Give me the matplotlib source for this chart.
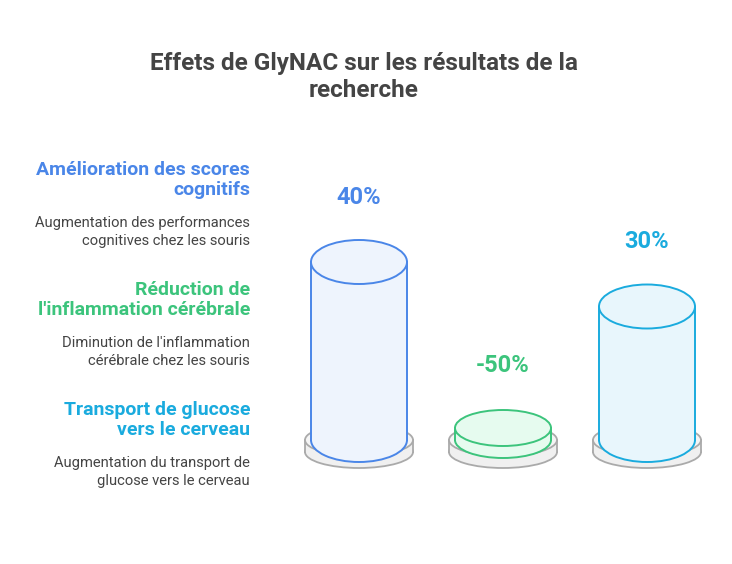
import matplotlib.pyplot as plt
from matplotlib.patches import Ellipse, Rectangle

plt.rcParams['font.family'] = ['Roboto', 'DejaVu Sans']

# données
titles = ["Amélioration des scores\ncognitifs", "Réduction de\nl'inflammation cérébrale", "Transport de glucose\nvers le cerveau"]
descs = ["Augmentation des performances\ncognitives chez les souris",
         "Diminution de l'inflammation\ncérébrale chez les souris",
         "Augmentation du transport de\nglucose vers le cerveau"]
values = [40, -50, 30]
labels = ["40%", "-50%", "30%"]
edges = ["#4a86e8", "#3cc47c", "#1aabde"]
fills = ["#eef4fd", "#e6fbef", "#e8f6fc"]

fig = plt.figure(figsize=(7.32, 5.64), dpi=100)
ax = fig.add_axes([0, 0, 1, 1])
ax.set_xlim(0, 732)
ax.set_ylim(564, 0)
ax.axis('off')

ax.text(364, 77, "Effets de GlyNAC sur les résultats de la\nrecherche", ha='center', va='center',
        fontsize=17.5, fontweight='bold', color='#444444', linespacing=1.2)

# textes à gauche
for i in range(3):
    y0 = 180 + i * 120
    ax.text(250, y0, titles[i], ha='right', va='center', fontsize=14, fontweight='bold',
            color=edges[i], linespacing=1.2)
    ax.text(250, y0 + 52, descs[i], ha='right', va='center', fontsize=10.6,
            color='#444444', linespacing=1.3)

base = 440
scale = 4.45
for i, v in enumerate(values):
    cx = 359 + i * 144
    # socle
    ax.add_patch(Ellipse((cx, base + 12), 108, 32, fc='#f0f0f0', ec='#aaaaaa', lw=1.3, zorder=1))
    ax.add_patch(Rectangle((cx - 54, base), 108, 12, fc='#f0f0f0', ec='none', zorder=1.1))
    ax.plot([cx - 54, cx - 54], [base, base + 12], color='#aaaaaa', lw=1.3, zorder=1.2)
    ax.plot([cx + 54, cx + 54], [base, base + 12], color='#aaaaaa', lw=1.3, zorder=1.2)
    ax.add_patch(Ellipse((cx, base), 108, 32, fc='#f5f5f5', ec='#aaaaaa', lw=1.3, zorder=1.3))
    # cylindre
    h = v * scale if v > 0 else 12
    top = base - h
    ry = 44 if v > 0 else 36
    ax.add_patch(Ellipse((cx, base), 96, ry, fc=fills[i], ec=edges[i], lw=1.4, zorder=2))
    ax.add_patch(Rectangle((cx - 48, top), 96, h, fc=fills[i], ec='none', zorder=2.1))
    ax.plot([cx - 48, cx - 48], [top, base], color=edges[i], lw=1.4, zorder=2.2)
    ax.plot([cx + 48, cx + 48], [top, base], color=edges[i], lw=1.4, zorder=2.2)
    ax.add_patch(Ellipse((cx, top), 96, ry, fc=fills[i], ec=edges[i], lw=1.4, zorder=2.3))
    ax.text(cx, top - 65 if v > 0 else top - 63, labels[i], ha='center', va='center',
            fontsize=17, fontweight='bold', color=edges[i])

fig.savefig("out.png", dpi=100)
